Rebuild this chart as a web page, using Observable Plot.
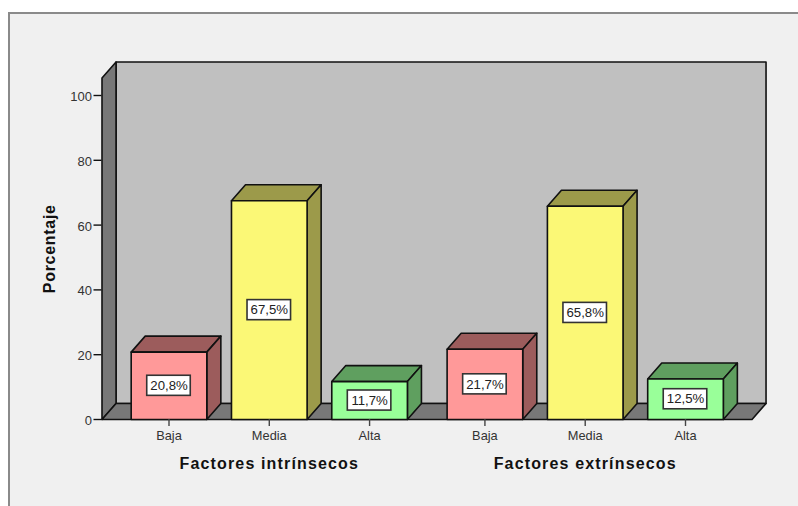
<!DOCTYPE html>
<html lang="es">
<head>
<meta charset="utf-8">
<script src="https://cdn.jsdelivr.net/npm/d3@7"></script>
<script src="https://cdn.jsdelivr.net/npm/@observablehq/plot@0.6"></script>
<style>
html,body{margin:0;padding:0;background:#fff;width:798px;height:506px;overflow:hidden}
#panel{position:absolute;left:8px;top:12px;right:0;bottom:0;background:#f0f0f0;border-left:2px solid #8a8a8a;border-top:2px solid #8a8a8a}
#chart{position:absolute;left:0;top:0}
#chart svg{background:transparent;display:block}
</style>
</head>
<body>
<div id="panel"></div>
<div id="chart"></div>
<script>
const groups = ["Factores intrínsecos", "Factores extrínsecos"];
const levels = ["Baja", "Media", "Alta"];
const intrinsicValues = [20.8, 67.5, 11.7];
const extrinsicValues = [21.7, 65.8, 12.5];
const valueLabels = ["20,8%", "67,5%", "11,7%", "21,7%", "65,8%", "12,5%"];
const yTicks = [0, 20, 40, 60, 80, 100];

const frontColors = {Baja: "#ff9999", Media: "#fbf876", Alta: "#99ff99"};
const sideColors = {Baja: "#9c5c5c", Media: "#9c9a4a", Alta: "#5f9f5f"};

const groupGap = 0.15, halfBar = 0.377, dx = 0.14, dy = 4.94;
const xDomain = [-0.668, 5.813], yDomain = [0, 105.4];
const font = "'Liberation Sans', Arial, sans-serif";

const bars = [];
[intrinsicValues, extrinsicValues].forEach((vals, g) => {
  vals.forEach((v, i) => {
    bars.push({group: g, level: levels[i], value: v, x: g * (levels.length + groupGap) + i, label: valueLabels[bars.length]});
  });
});
const tickName = new Map(bars.map(b => [b.x, b.level]));

const faces = [];
bars.forEach((b, k) => {
  const x0 = b.x - halfBar, x1 = b.x + halfBar, v = b.value;
  const add = (name, fill, pts) => pts.forEach(([x, y]) => faces.push({id: k + name, fill, x, y}));
  add("top", sideColors[b.level], [[x0, v], [x1, v], [x1 + dx, v + dy], [x0 + dx, v + dy]]);
  add("side", sideColors[b.level], [[x1, 0], [x1 + dx, dy], [x1 + dx, v + dy], [x1, v]]);
  add("front", frontColors[b.level], [[x0, 0], [x1, 0], [x1, v], [x0, v]]);
});

const [xa, xb] = xDomain, yt = yDomain[1];
const walls = [];
const addWall = (id, fill, pts) => pts.forEach(([x, y]) => walls.push({id, fill, x, y}));
addWall("back", "#c0c0c0", [[xa + dx, dy], [xb + dx, dy], [xb + dx, yt + dy], [xa + dx, yt + dy]]);
addWall("left", "#787878", [[xa, 0], [xa + dx, dy], [xa + dx, yt + dy], [xa, yt]]);
addWall("floor", "#787878", [[xa, 0], [xb, 0], [xb + dx, dy], [xa + dx, dy]]);

const groupCenters = groups.map((name, g) => ({name, x: d3.mean(bars.filter(b => b.group === g), b => b.x)}));

const poly = (data) => Plot.line(data, {x: "x", y: "y", z: "id", fill: "fill", stroke: "#111", strokeWidth: 1.6, curve: "linear-closed", strokeLinejoin: "round"});

const plot = Plot.plot({
  width: 798, height: 506,
  marginLeft: 101.5, marginRight: 46.5, marginTop: 77.5, marginBottom: 87,
  style: {background: "transparent", fontFamily: font, overflow: "visible"},
  x: {type: "linear", domain: xDomain},
  y: {domain: yDomain},
  color: {type: "identity"},
  marks: [
    poly(walls),
    poly(faces),
    Plot.rect(bars, {
      x1: b => b.x - 0.217, x2: b => b.x + 0.217,
      y1: b => b.value / 2 - 3.1, y2: b => b.value / 2 + 3.1,
      fill: "#fff", stroke: "#333", strokeWidth: 1.6
    }),
    Plot.text(bars, {x: "x", y: b => b.value / 2, text: "label", fontSize: 13.2, fill: "#222"}),
    Plot.axisY({ticks: yTicks, tickSize: 8, text: null, label: null, stroke: "#111", strokeWidth: 1.4}),
    Plot.axisY({ticks: yTicks, tickSize: 0, tickPadding: 10, dy: 1.4, label: null, fontSize: 13, fill: "#333"}),
    Plot.axisX({ticks: bars.map(b => b.x), tickFormat: d => tickName.get(d), tickSize: 7, tickPadding: 4, label: null, fontSize: 12.8, stroke: "#444", fill: "#333", strokeWidth: 1.4}),
    Plot.text(groupCenters, {x: "x", text: "name", frameAnchor: "bottom", lineAnchor: "middle", dy: 44, fontSize: 16, fontWeight: "bold", fill: "#111"}),
    Plot.text(["Porcentaje"], {frameAnchor: "left", textAnchor: "middle", lineAnchor: "middle", text: d => d, rotate: -90, dx: -52, fontSize: 16, fontWeight: "bold", fill: "#111"})
  ]
});
d3.select(plot).selectAll("text").filter(function() {
  return this.querySelector("text") == null && groups.includes(this.textContent);
}).style("letter-spacing", "1.15px");
d3.select(plot).selectAll("text").filter(function() {
  return this.querySelector("text") == null && this.textContent === "Porcentaje";
}).style("letter-spacing", "0.7px");
document.getElementById("chart").appendChild(plot);
</script>
</body>
</html>
